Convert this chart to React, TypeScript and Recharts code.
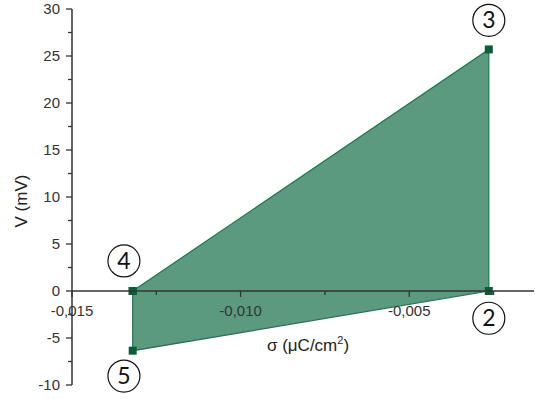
import React from 'react';
import {
  ComposedChart, Area, Scatter, XAxis, YAxis, ReferenceDot,
} from 'recharts';

// corner points of the cycle, in drawing order 4 -> 3 -> 2 -> 5
const pointNames = ['4', '3', '2', '5'];
const sigma = [-0.0132, -0.00264, -0.00264, -0.0132];
const voltage = [0, 25.7, 0, -6.35];

// circled labels next to each corner
const labelSigma = [-0.01346, -0.00264, -0.00264, -0.01346];
const labelVoltage = [3.2, 28.8, -2.9, -9.05];

const xTicks = [-0.015, -0.0125, -0.01, -0.0075, -0.005, -0.0025];
const xMajor = [-0.015, -0.01, -0.005];
const yTicks = [-10, -7.5, -5, -2.5, 0, 2.5, 5, 7.5, 10, 12.5, 15, 17.5, 20, 22.5, 25, 27.5, 30];

const X_DOMAIN: [number, number] = [-0.015, -0.0013];
const Y_DOMAIN: [number, number] = [-10, 30];

const W = 535;
const H = 399;
const TOP = 9;
const BOTTOM = 14;
const LEFT = 72;
const RIGHT = 1;

const FILL = '#5c9a80';
const EDGE = '#1f7451';
const MARK = '#0b5d38';
const AXIS = '#333';
const FONT = '"Liberation Sans", Arial, sans-serif';

// where y = 0 sits, so the sigma axis can be laid over the main plot
const plotH = H - TOP - BOTTOM;
const zeroY = TOP + (plotH * Y_DOMAIN[1]) / (Y_DOMAIN[1] - Y_DOMAIN[0]);

const bandData = [
  { x: sigma[0], band: [voltage[3], voltage[0]] },
  { x: sigma[1], band: [voltage[2], voltage[1]] },
];
const outline = [0, 1, 2, 3, 0].map((i) => ({ x: sigma[i], y: voltage[i], name: pointNames[i] }));

const fmt = (v: number) => v.toFixed(3).replace('.', ',');

const YTick = (props: any) => {
  const { x, y, payload } = props;
  const major = Number.isInteger(payload.value / 5);
  return (
    <g>
      <line x1={x - (major ? 6 : 4)} y1={y} x2={x} y2={y} stroke={AXIS} strokeWidth={1.3} />
      {major && (
        <text x={x - 12} y={y} dy={5} textAnchor="end" fontSize={15} fill={AXIS} fontFamily={FONT}>
          {payload.value}
        </text>
      )}
    </g>
  );
};

const XTick = (props: any) => {
  const { x, y, payload } = props;
  const major = xMajor.some((m) => Math.abs(m - payload.value) < 1e-9);
  return (
    <g>
      <line x1={x} y1={y} x2={x} y2={y + (major ? 6 : 4)} stroke={AXIS} strokeWidth={1.3} />
      {major && (
        <text x={x} y={y + 25} textAnchor="middle" fontSize={15} fill={AXIS} fontFamily={FONT}>
          {fmt(payload.value)}
        </text>
      )}
    </g>
  );
};

export default function App() {
  return (
    <div style={{ position: 'absolute', left: 0, top: 0, width: W, height: H, background: '#fff' }}>
      <ComposedChart width={W} height={H} margin={{ top: TOP, right: RIGHT, bottom: BOTTOM, left: 0 }}>
        <XAxis dataKey="x" type="number" domain={X_DOMAIN} allowDataOverflow hide />
        <YAxis
          type="number"
          domain={Y_DOMAIN}
          ticks={yTicks}
          interval={0}
          width={LEFT}
          tickSize={0}
          tickMargin={0}
          tick={<YTick />}
          axisLine={{ stroke: AXIS, strokeWidth: 1.5 }}
          tickLine={false}
        />
        <Area
          data={bandData}
          dataKey="band"
          type="linear"
          fill={FILL}
          fillOpacity={1}
          stroke="none"
          isAnimationActive={false}
        />
        <Scatter
          data={outline}
          dataKey="y"
          fill={MARK}
          shape="square"
          line={{ stroke: EDGE, strokeWidth: 1.2 }}
          isAnimationActive={false}
        />
        {pointNames.map((n, i) => (
          <ReferenceDot
            key={n}
            x={labelSigma[i]}
            y={labelVoltage[i]}
            r={16}
            fill="#fff"
            stroke="#111"
            strokeWidth={1.2}
            ifOverflow="visible"
            label={{ value: n, position: 'center', fontSize: 23, fill: '#111', fontFamily: 'Lato, sans-serif' }}
          />
        ))}
      </ComposedChart>

      {/* sigma axis drawn through y = 0 */}
      <div style={{ position: 'absolute', left: 0, top: 0, pointerEvents: 'none' }}>
        <ComposedChart
          width={W}
          height={zeroY + 40}
          data={bandData}
          margin={{ top: TOP, right: RIGHT, bottom: 0, left: LEFT }}
        >
          <XAxis
            dataKey="x"
            type="number"
            domain={X_DOMAIN}
            allowDataOverflow
            ticks={xTicks}
            interval={0}
            height={40}
            tickSize={0}
            tickMargin={0}
            tick={<XTick />}
            tickLine={false}
            axisLine={{ stroke: AXIS, strokeWidth: 1.5 }}
          />
          <YAxis hide domain={Y_DOMAIN} />
        </ComposedChart>
      </div>

      <div
        style={{
          position: 'absolute', left: 22, top: 201, transform: 'translate(-50%, -50%) rotate(-90deg)',
          whiteSpace: 'nowrap', fontFamily: FONT, fontSize: 17, color: '#222',
        }}
      >
        V (mV)
      </div>
      <div
        style={{
          position: 'absolute', left: 308, top: 345, transform: 'translate(-50%, -50%)',
          whiteSpace: 'nowrap', fontFamily: FONT, fontSize: 17, color: '#222',
        }}
      >
        σ (μC/cm<sup style={{ fontSize: 11 }}>2</sup>)
      </div>
    </div>
  );
}
